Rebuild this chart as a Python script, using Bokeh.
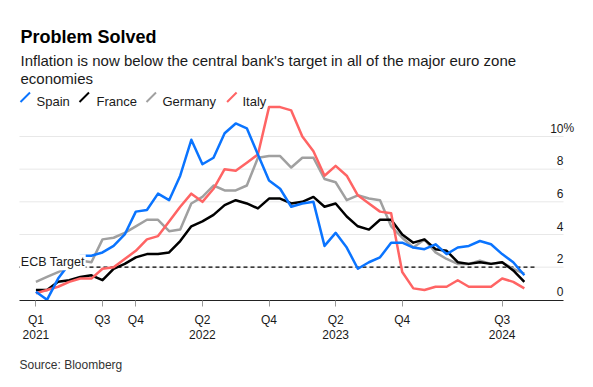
from bokeh.plotting import figure
from bokeh.models import Label, FixedTicker, Arrow, Range1d, Title
from bokeh.embed import file_html
from bokeh.resources import INLINE

# ---------------- data ----------------
# monthly year-over-year CPI, Jan 2021 .. Sep 2024 (month index 0..44)
months = list(range(45))

spain = [0.5, 0.0, 1.3, 2.2, 2.7, 2.7, 2.9, 3.3, 4.0, 5.4, 5.5, 6.5,
         6.1, 7.6, 9.8, 8.3, 8.7, 10.2, 10.8, 10.5, 8.9, 7.3, 6.8, 5.7,
         5.9, 6.0, 3.3, 4.1, 3.2, 1.9, 2.3, 2.6, 3.5, 3.5, 3.2, 3.1,
         3.4, 2.8, 3.2, 3.3, 3.6, 3.4, 2.8, 2.3, 1.5]

france = [0.6, 0.6, 1.1, 1.2, 1.4, 1.5, 1.2, 1.9, 2.2, 2.6, 2.8, 2.8,
          2.9, 3.6, 4.5, 4.8, 5.2, 5.8, 6.1, 5.9, 5.6, 6.2, 6.2, 5.9,
          6.0, 6.3, 5.7, 5.9, 5.1, 4.5, 4.3, 4.9, 4.9, 4.0, 3.5, 3.7,
          3.1, 3.0, 2.3, 2.2, 2.3, 2.2, 2.3, 1.8, 1.1]

germany = [1.1, 1.4, 1.7, 2.0, 2.4, 2.3, 3.7, 3.8, 4.1, 4.5, 4.9, 4.9,
           4.2, 4.3, 5.9, 6.3, 7.0, 6.7, 6.7, 7.0, 8.7, 8.8, 8.8, 8.1,
           8.7, 8.7, 7.4, 7.2, 6.1, 6.4, 6.2, 6.1, 4.5, 3.8, 3.2, 3.7,
           2.9, 2.5, 2.2, 2.2, 2.4, 2.2, 2.3, 1.9, 1.6]

italy = [0.4, 0.6, 0.8, 1.1, 1.3, 1.3, 1.9, 2.0, 2.5, 3.0, 3.7, 3.9,
         4.8, 5.7, 6.5, 6.0, 6.8, 8.0, 7.9, 8.4, 8.9, 11.8, 11.8, 11.6,
         10.0, 9.1, 7.6, 8.2, 7.6, 6.4, 5.9, 5.4, 5.3, 1.7, 0.7, 0.6,
         0.8, 0.8, 1.2, 0.8, 0.8, 0.8, 1.3, 1.1, 0.7]

series_names = ["Spain", "France", "Germany", "Italy"]
series_values = [spain, france, germany, italy]
series_colors = ["#0a74ff", "#000000", "#a0a0a0", "#ff6464"]

x_tick_months = [0, 6, 9, 15, 21, 27, 33, 42]
x_tick_labels = ["Q1\n2021", "Q3", "Q4", "Q2\n2022", "Q4", "Q2\n2023", "Q4", "Q3\n2024"]

y_ticks = [0, 2, 4, 6, 8, 10]
y_tick_labels = ["0", "2", "4", "6", "8", "10"]
grid_ticks = [2, 4, 6, 8, 10]

ecb_target = 2.0

title_text = "Problem Solved"
subtitle_lines = ["Inflation is now below the central bank's target in all of the major euro zone",
                  "economies"]
source_text = "Source: Bloomberg"

# ---------------- layout ----------------
FONT = "Liberation Sans"
W, H = 593, 387
FRAME_BOTTOM = 300            # canvas y of the frame bottom (x axis)
PLOT_X0, PLOT_X1 = -1.48, 47.53   # horizontal extent of axis / gridlines (months)

p = figure(width=W, height=H,
           x_range=Range1d(-3.19, 50.23), y_range=Range1d(-0.043, 18.33),
           y_axis_location=None,
           min_border_left=0, min_border_right=0,
           min_border_top=0, min_border_bottom=H - FRAME_BOTTOM,
           output_backend="svg", toolbar_location=None)
p.outline_line_color = None
p.background_fill_color = "white"
p.border_fill_color = "white"
p.xgrid.visible = False
p.ygrid.visible = False

# x axis
ax = p.xaxis[0]
ax.bounds = (PLOT_X0, PLOT_X1)
ax.ticker = FixedTicker(ticks=x_tick_months, minor_ticks=[])
ax.major_label_overrides = {m: t for m, t in zip(x_tick_months, x_tick_labels)}
ax.major_label_text_font = FONT
ax.major_label_text_font_size = "12px"
ax.major_label_text_color = "#1a1a1a"
ax.major_label_text_line_height = 1.12
ax.axis_line_color = "#222222"
ax.axis_line_width = 1
ax.major_tick_in = 0
ax.major_tick_out = 6
ax.major_tick_line_color = "#999999"
ax.minor_tick_in = 0
ax.minor_tick_out = 0
ax.major_label_standoff = 6

# gridlines
p.segment(x0=[PLOT_X0] * len(grid_ticks), y0=grid_ticks,
          x1=[PLOT_X1] * len(grid_ticks), y1=grid_ticks,
          line_color="#e8e8e8", line_width=1)

# ECB target dashed line
p.line(x=[PLOT_X0, months[-1] + 1], y=[ecb_target, ecb_target],
       line_color="#000000", line_width=1.4, line_dash="4 3")

# series lines (drawing order)
for idx in [2, 1, 3, 0]:
    p.line(months, series_values[idx], line_color=series_colors[idx],
           line_width=2.5, line_join="round")

# ECB label with white background
p.add_layout(Label(x=19.3, y=ecb_target, x_units="screen", y_units="data", y_offset=5,
                   text="ECB Target", text_font=FONT, text_font_size="12.5px",
                   text_color="#1a1a1a", text_baseline="alphabetic",
                   background_fill_color="white", padding=1))

# y tick labels, sitting above gridlines at the right end
for t, lab in zip(y_ticks, y_tick_labels):
    p.add_layout(Label(x=563, y=t, x_units="screen", y_units="data", y_offset=8.3,
                       text=lab, text_font=FONT, text_font_size="12px",
                       text_color="#1a1a1a", text_align="right",
                       text_baseline="alphabetic"))
p.add_layout(Label(x=563, y=y_ticks[-1], x_units="screen", y_units="data", y_offset=8.3,
                   text="%", text_font=FONT, text_font_size="12px",
                   text_color="#1a1a1a", text_align="left", text_baseline="alphabetic"))

# title / subtitle (screen units: from frame bottom-left, y up)
def sy(page_y):
    return FRAME_BOTTOM - page_y

p.add_layout(Label(x=20, y=sy(36.7), x_units="screen", y_units="screen", text=title_text,
                   text_font=FONT, text_font_size="18px", text_font_style="bold",
                   text_color="#000000", text_baseline="alphabetic"))
for i, line in enumerate(subtitle_lines):
    p.add_layout(Label(x=20, y=sy(60 + 18.3 * i), x_units="screen", y_units="screen",
                       text=line, text_font=FONT, text_font_size="15px",
                       text_color="#1a1a1a", text_baseline="alphabetic"))

# legend with slash icons
legend_icon_x = [20, 79, 146, 226.6]
legend_text_x = [36, 96, 162, 242]
for name, col, ix, tx in zip(series_names, series_colors, legend_icon_x, legend_text_x):
    p.add_layout(Arrow(start=None, end=None, x_start=ix, y_start=sy(101.5),
                       x_end=ix + 9.5, y_end=sy(92), start_units="screen", end_units="screen",
                       line_color=col, line_width=2))
    p.add_layout(Label(x=tx, y=sy(101), x_units="screen", y_units="screen", text=name,
                       text_font=FONT, text_font_size="13px",
                       text_color="#1a1a1a", text_baseline="alphabetic"))

# source (below the axis)
p.add_layout(Title(text=source_text, align="left", offset=19,
                   text_font=FONT, text_font_size="12px", text_font_style="normal",
                   text_color="#333333", standoff=21), "below")

open("out.html", "w").write(file_html(p, INLINE))
